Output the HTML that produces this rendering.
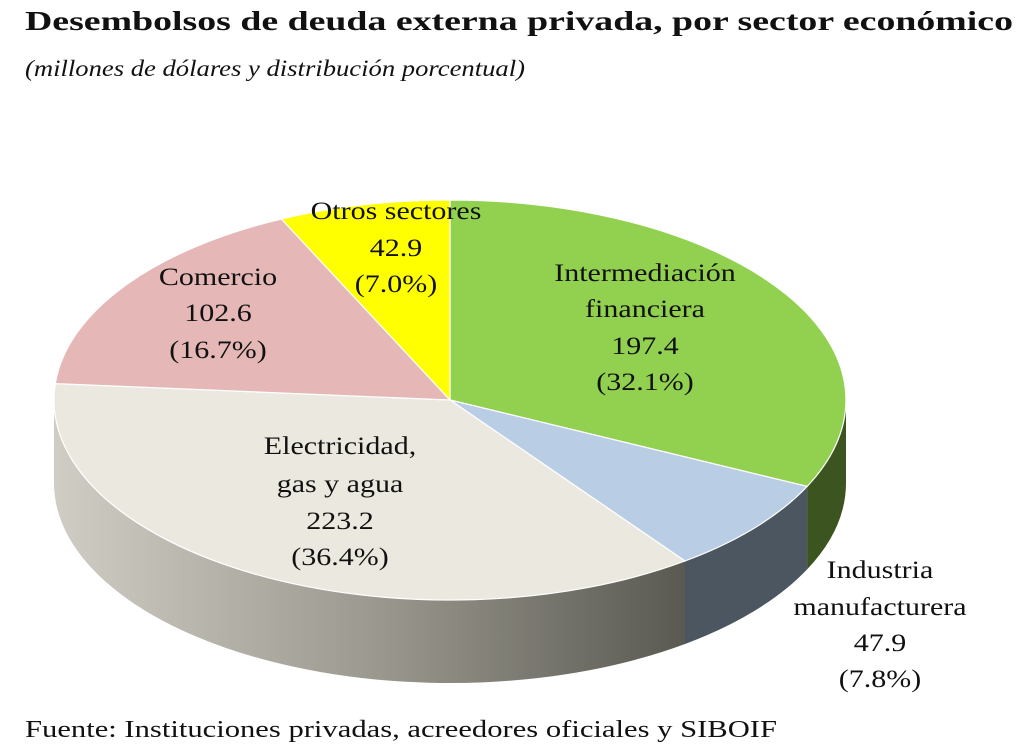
<!DOCTYPE html>
<html><head><meta charset="utf-8"><style>
html,body{margin:0;padding:0;background:#fff;}
svg{display:block;}
text{font-family:"Liberation Serif",serif;fill:#111;}
</style></head><body>
<svg width="1023" height="750" viewBox="0 0 1023 750">
<defs>
<linearGradient id="eg" x1="54" y1="0" x2="685" y2="0" gradientUnits="userSpaceOnUse">
<stop offset="0" stop-color="#cfcdc4"/>
<stop offset="0.5" stop-color="#9c9a90"/>
<stop offset="1" stop-color="#5a5952"/>
</linearGradient>
</defs>
<text x="25" y="30" font-size="27" font-weight="bold" textLength="988" lengthAdjust="spacingAndGlyphs">Desembolsos de deuda externa privada, por sector económico</text>
<text x="25" y="76" font-size="23" font-style="italic" textLength="500" lengthAdjust="spacingAndGlyphs">(millones de dólares y distribución porcentual)</text>

<path d="M846,400 A396,200 0 0 1 807.1,486.4 L807.1,569.4 A396,200 0 0 0 846,483 Z" fill="#3b5420"/>
<path d="M807.1,486.4 A396,200 0 0 1 685,561 L685,644 A396,200 0 0 0 807.1,569.4 Z" fill="#4b5660"/>
<path d="M685,561 A396,200 0 0 1 54,400 L54,483 A396,200 0 0 0 685,644 Z" fill="url(#eg)"/>

<g stroke="#fff" stroke-width="1.2">
<path d="M450,400 L450,200 A396,200 0 0 1 807.1,486.4 Z" fill="#92d050"/>
<path d="M450,400 L807.1,486.4 A396,200 0 0 1 685,561 Z" fill="#b9cde4"/>
<path d="M450,400 L685,561 A396,200 0 0 1 55.3,383.6 Z" fill="#eae8df"/>
<path d="M450,400 L55.3,383.6 A396,200 0 0 1 281.4,219 Z" fill="#e5b8b7"/>
<path d="M450,400 L281.4,219 A396,200 0 0 1 450,200 Z" fill="#ffff00"/>
</g>

<g font-size="25" text-anchor="middle">
<text transform="translate(396,219) scale(1.2,1)">Otros sectores</text>
<text transform="translate(396,256) scale(1.2,1)">42.9</text>
<text transform="translate(396,292) scale(1.2,1)">(7.0%)</text>
<text transform="translate(645,281) scale(1.2,1)">Intermediación</text>
<text transform="translate(645,317) scale(1.2,1)">financiera</text>
<text transform="translate(645,354) scale(1.2,1)">197.4</text>
<text transform="translate(645,390) scale(1.2,1)">(32.1%)</text>
<text transform="translate(218,285) scale(1.2,1)">Comercio</text>
<text transform="translate(218,321) scale(1.2,1)">102.6</text>
<text transform="translate(218,358) scale(1.2,1)">(16.7%)</text>
<text transform="translate(340,454) scale(1.2,1)">Electricidad,</text>
<text transform="translate(340,492) scale(1.2,1)">gas y agua</text>
<text transform="translate(340,529) scale(1.2,1)">223.2</text>
<text transform="translate(340,565) scale(1.2,1)">(36.4%)</text>
<text transform="translate(880,578) scale(1.2,1)">Industria</text>
<text transform="translate(880,615) scale(1.2,1)">manufacturera</text>
<text transform="translate(880,651) scale(1.2,1)">47.9</text>
<text transform="translate(880,687) scale(1.2,1)">(7.8%)</text>
</g>
<text x="25" y="737" font-size="24" textLength="752" lengthAdjust="spacingAndGlyphs">Fuente: Instituciones privadas, acreedores oficiales y SIBOIF</text>
</svg>
</body></html>
